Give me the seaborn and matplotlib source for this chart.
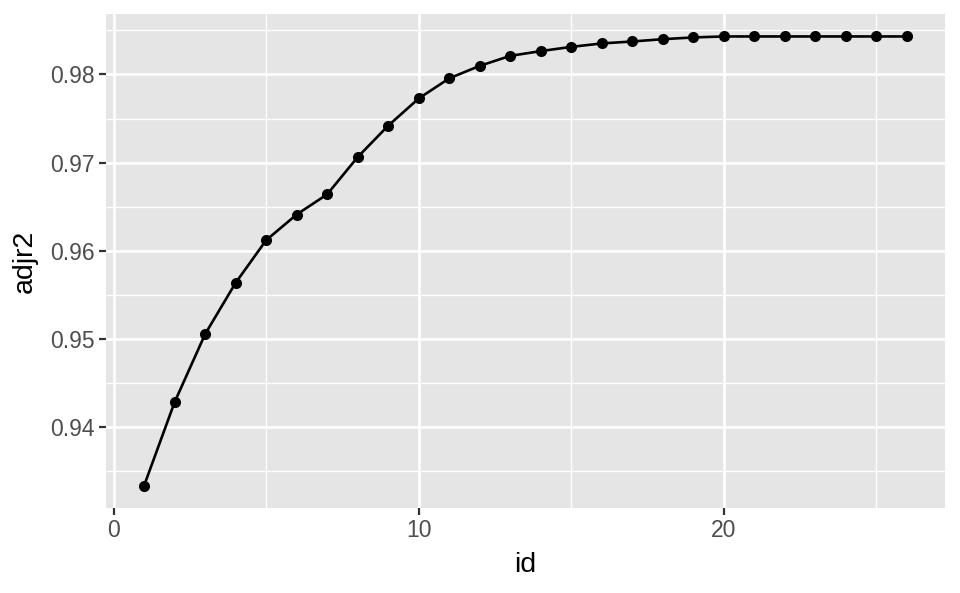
import numpy as np
import pandas as pd
import matplotlib
matplotlib.use("Agg")
import matplotlib.pyplot as plt
import seaborn as sns
from matplotlib.ticker import MultipleLocator

# values
ids = list(range(1, 27))
adjr2 = [0.93340, 0.94286, 0.95057, 0.95638, 0.96121, 0.96412, 0.96641,
         0.97063, 0.97419, 0.97727, 0.97955, 0.98097, 0.98210, 0.98264,
         0.98312, 0.98351, 0.98373, 0.98399, 0.98419, 0.98430, 0.98430,
         0.98430, 0.98430, 0.98430, 0.98430, 0.98430]
x_ticks = [0, 10, 20]
y_ticks = [0.94, 0.95, 0.96, 0.97, 0.98]

df = pd.DataFrame({"id": ids, "adjr2": adjr2})

# ggplot2-ish grey theme
sns.set_theme(style="darkgrid", rc={
    "axes.facecolor": "#E5E5E5",
    "grid.color": "white",
})
plt.rcParams["font.family"] = ["Liberation Sans", "DejaVu Sans"]

fig = plt.figure(figsize=(9.6, 5.93), dpi=100)
ax = fig.add_axes([106 / 960, 1 - 508 / 593, (945 - 106) / 960, (508 - 14) / 593])

sns.lineplot(data=df, x="id", y="adjr2", ax=ax, color="black", linewidth=1.9,
             marker="o", markersize=8, markeredgewidth=0, zorder=3)

ax.set_xticks(x_ticks)
ax.set_yticks(y_ticks)
ax.set_yticklabels([f"{v:.2f}" for v in y_ticks])
ax.xaxis.set_minor_locator(MultipleLocator(5))
ax.yaxis.set_minor_locator(MultipleLocator(0.005))
ax.margins(x=0.05, y=0.05)

ax.grid(which="major", color="white", linewidth=1.9)
ax.grid(which="minor", color="white", linewidth=0.95)
ax.set_axisbelow(True)
for s in ax.spines.values():
    s.set_visible(False)

ax.tick_params(axis="both", which="major", length=5.2, width=1.6, color="#333333",
               labelcolor="#4D4D4D", labelsize=16.5, pad=3, bottom=True, left=True)
ax.tick_params(axis="both", which="minor", length=0)

ax.set_xlabel("id", fontsize=20.5, color="black", labelpad=7)
ax.set_ylabel("adjr2", fontsize=20.5, color="black", labelpad=9)

fig.savefig("out.png", dpi=100)
